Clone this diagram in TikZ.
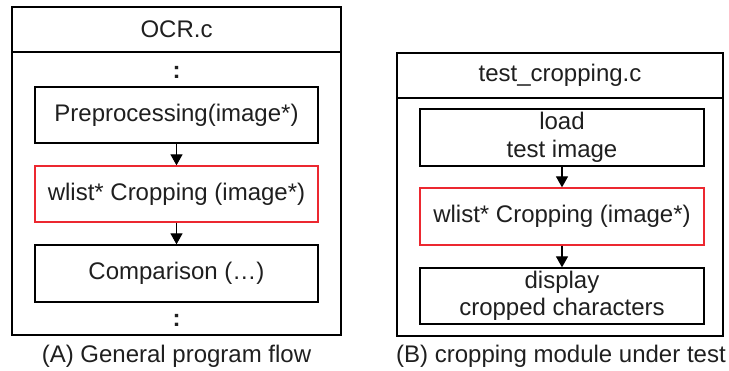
\documentclass[tikz,border=0pt]{standalone}
\usepackage{fontspec}
\setmainfont{Liberation Sans}
\usetikzlibrary{arrows.meta}
\definecolor{boxred}{RGB}{236,40,48}
\begin{document}
\begin{tikzpicture}[x=1pt,y=-1pt,
  every node/.style={font=\fontsize{24}{27.5}\selectfont, text=black!88},
  panel/.style={draw, line width=1.3pt, inner sep=0pt},
  stepbox/.style={draw, line width=1.3pt, inner sep=0pt, align=center},
  redbox/.style={stepbox, draw=boxred},
  flow/.style={-{Triangle[width=12pt,length=11pt]}, line width=1.2pt}]
\useasboundingbox (0,0) rectangle (729,371);
% Left panel
\node[panel, minimum width=329pt, minimum height=328pt] (A) at (176.5,171) {};
\coordinate (Ah1) at (12,52);
\coordinate (Ah2) at (341,52);
\draw[line width=1.3pt] (Ah1) -- (Ah2);
\node (Atitle) at (176.5,29.5) {OCR.c};
\node (Adot1) at (176.5,72) {\bfseries :};
\node[stepbox, minimum width=283pt, minimum height=56pt] (pre) at (176.5,115) {Preprocessing(image*)};
\node[redbox, minimum width=283pt, minimum height=56pt] (crop1) at (176.5,194) {wlist* Cropping (image*)};
\node[stepbox, minimum width=283pt, minimum height=57pt] (comp) at (176.5,273.5) {Comparison (\dots)};
\node (Adot2) at (176.5,320) {\bfseries :};
\node (Acap) at (176.5,356) {(A) General program flow};
\draw[flow] (pre) -- (crop1);
\draw[flow] (crop1) -- (comp);
% Right panel
\node[panel, minimum width=326pt, minimum height=283pt] (B) at (560,194.5) {};
\coordinate (Bh1) at (397,98);
\coordinate (Bh2) at (723,98);
\draw[line width=1.3pt] (Bh1) -- (Bh2);
\node (Btitle) at (560,75.5) {test\_cropping.c};
\node[stepbox, minimum width=284pt, minimum height=57pt] (load) at (562,137.5) {load\\test image};
\node[redbox, minimum width=284pt, minimum height=57pt] (crop2) at (562,216.5) {wlist* Cropping (image*)};
\node[stepbox, minimum width=284pt, minimum height=56pt] (disp) at (562,296) {display\\cropped characters};
\node (Bcap) at (561,356) {(B) cropping module under test};
\draw[flow] (load) -- (crop2);
\draw[flow] (crop2) -- (disp);
\end{tikzpicture}
\end{document}
